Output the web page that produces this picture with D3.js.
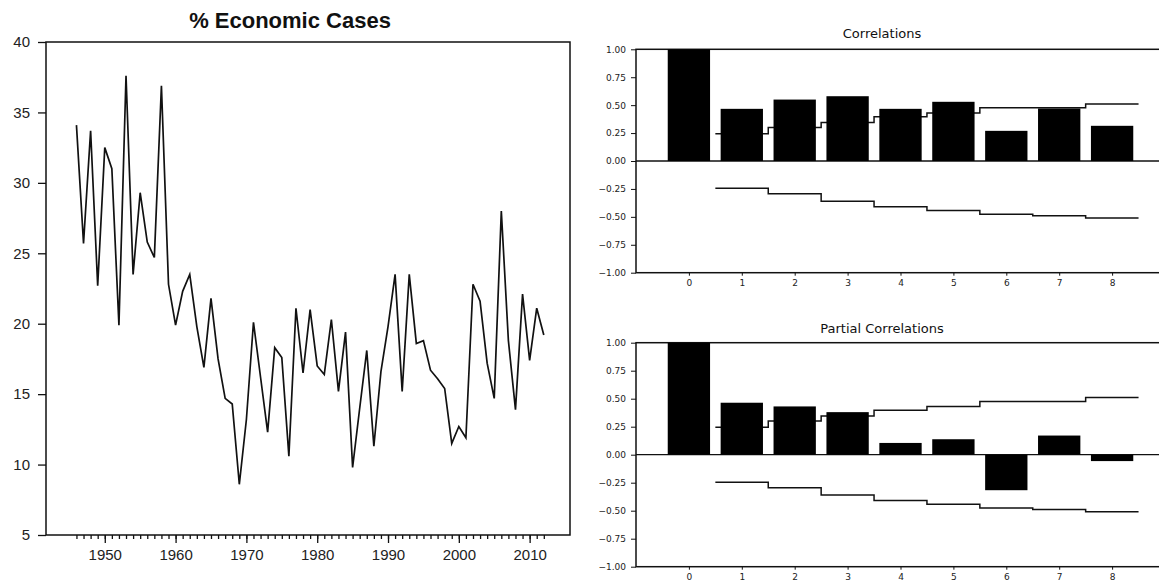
<!DOCTYPE html>
<html>
<head>
<meta charset="utf-8">
<script src="https://cdn.jsdelivr.net/npm/d3@7"></script>
<style>
body { margin: 0; background: #fff; }
svg { display: block; }
</style>
</head>
<body>
<div id="chart"></div>
<script>
// yearly series, 1946 .. 2012
var startYear = 1946;
var econValues = [
    34.1, 25.7, 33.7, 22.7, 32.5, 31.0, 19.9, 37.6, 23.5, 29.3,
    25.8, 24.7, 36.9, 22.8, 19.9, 22.3, 23.5, 19.8, 16.9, 21.8,
    17.5, 14.7, 14.3, 8.6, 13.2, 20.1, 16.2, 12.3, 18.3, 17.6,
    10.6, 21.1, 16.5, 21.0, 17.0, 16.4, 20.3, 15.2, 19.4, 9.8,
    14.0, 18.1, 11.3, 16.6, 19.8, 23.5, 15.2, 23.5, 18.6, 18.8,
    16.7, 16.1, 15.4, 11.5, 12.7, 11.9, 22.8, 21.6, 17.2, 14.7,
    28.0, 18.8, 13.9, 22.1, 17.4, 21.1, 19.2
];
var yearTicks = [1950, 1960, 1970, 1980, 1990, 2000, 2010];
var valueTicks = [5, 10, 15, 20, 25, 30, 35, 40];

// correlogram
var lags = [0, 1, 2, 3, 4, 5, 6, 7, 8];
var acfValues = [1.00, 0.467, 0.55, 0.58, 0.467, 0.53, 0.27, 0.47, 0.315];
var pacfValues = [1.00, 0.464, 0.431, 0.38, 0.105, 0.138, -0.317, 0.171, -0.057];
var upperBand = [0.245, 0.30, 0.345, 0.396, 0.43, 0.476, 0.476, 0.51];   // lags 1..8
var lowerBand = [-0.245, -0.294, -0.36, -0.41, -0.443, -0.476, -0.49, -0.51];
var corrTicks = [-1, -0.75, -0.5, -0.25, 0, 0.25, 0.5, 0.75, 1];

var svg = d3.select("#chart").append("svg")
    .attr("width", 1159)
    .attr("height", 582);

LineChart = function(_parent, _title, _values, _box) {
    vis = this;
    this.parent = _parent;
    this.title = _title;
    this.data = _values.map(function(v, i) { return { year: startYear + i, value: v }; });
    this.box = _box;
    this.initVis();
};

LineChart.prototype.initVis = function() {
    vis = this;
    var b = vis.box;

    vis.g = vis.parent.append("g").attr("class", "line-chart");

    vis.x = d3.scaleLinear().domain([1941.7, 2015.7]).range([b.left, b.right]);
    vis.y = d3.scaleLinear().domain([5, 40]).range([b.bottom, b.top]);

    vis.g.append("text")
        .attr("x", 290)
        .attr("y", 28)
        .attr("text-anchor", "middle")
        .attr("font-family", "Liberation Sans, Arial, sans-serif")
        .attr("font-weight", "bold")
        .attr("font-size", "22px")
        .attr("fill", "#111")
        .text(vis.title);

    // minor yearly ticks
    var minor = vis.g.append("g")
        .attr("transform", "translate(0," + b.bottom + ")")
        .call(d3.axisBottom(vis.x)
            .tickValues(vis.data.map(function(d) { return d.year; }))
            .tickSize(4)
            .tickFormat(""));
    minor.select(".domain").remove();

    var xAxis = vis.g.append("g")
        .attr("transform", "translate(0," + b.bottom + ")")
        .call(d3.axisBottom(vis.x)
            .tickValues(yearTicks)
            .tickSize(8)
            .tickPadding(6)
            .tickFormat(d3.format("d")));
    xAxis.select(".domain").remove();

    var yAxis = vis.g.append("g")
        .attr("transform", "translate(" + b.left + ",0)")
        .call(d3.axisLeft(vis.y)
            .tickValues(valueTicks)
            .tickSize(8)
            .tickPadding(8));
    yAxis.select(".domain").remove();

    vis.g.selectAll(".tick line").attr("stroke", "#111").attr("stroke-width", 1.3);
    vis.g.selectAll(".tick text")
        .attr("font-family", "Liberation Sans, Arial, sans-serif")
        .attr("font-size", "15px")
        .attr("fill", "#222");

    vis.g.append("rect")
        .attr("x", b.left)
        .attr("y", b.top)
        .attr("width", b.right - b.left)
        .attr("height", b.bottom - b.top)
        .attr("fill", "none")
        .attr("stroke", "#111")
        .attr("stroke-width", 1.5);

    vis.updateVis();
};

LineChart.prototype.updateVis = function() {
    vis = this;

    var line = d3.line()
        .x(function(d) { return vis.x(d.year); })
        .y(function(d) { return vis.y(d.value); });

    vis.g.append("path")
        .datum(vis.data)
        .attr("d", line)
        .attr("fill", "none")
        .attr("stroke", "#111")
        .attr("stroke-width", 1.7);
};

CorrChart = function(_parent, _title, _values, _box) {
    vis = this;
    this.parent = _parent;
    this.title = _title;
    this.data = lags.map(function(l, i) { return { lag: l, value: _values[i] }; });
    this.box = _box;
    this.initVis();
};

CorrChart.prototype.initVis = function() {
    vis = this;
    var b = vis.box;

    vis.g = vis.parent.append("g").attr("class", "corr-chart");

    vis.x = d3.scaleLinear().domain([-1, 9]).range([b.left, b.right]);
    vis.y = d3.scaleLinear().domain([-1, 1]).range([b.bottom, b.top]);

    vis.g.append("text")
        .attr("x", 882)
        .attr("y", b.titleY)
        .attr("text-anchor", "middle")
        .attr("font-family", "DejaVu Sans, Verdana, sans-serif")
        .attr("font-size", "13px")
        .attr("fill", "#111")
        .text(vis.title);

    var yAxis = vis.g.append("g")
        .attr("transform", "translate(" + b.left + ",0)")
        .call(d3.axisLeft(vis.y)
            .tickValues(corrTicks)
            .tickSize(5)
            .tickPadding(5)
            .tickFormat(d3.format(".2f")));
    yAxis.select(".domain").remove();

    var xAxis = vis.g.append("g")
        .attr("transform", "translate(0," + b.bottom + ")")
        .call(d3.axisBottom(vis.x)
            .tickValues(lags)
            .tickSize(3)
            .tickPadding(4));
    xAxis.select(".domain").remove();

    vis.g.selectAll(".tick line").attr("stroke", "#111");
    vis.g.selectAll(".tick text")
        .attr("font-family", "DejaVu Sans, Verdana, sans-serif")
        .attr("font-size", "9px")
        .attr("fill", "#222");

    vis.g.append("rect")
        .attr("x", b.left)
        .attr("y", b.top)
        .attr("width", b.right - b.left)
        .attr("height", b.bottom - b.top)
        .attr("fill", "none")
        .attr("stroke", "#111")
        .attr("stroke-width", 1.5);

    vis.g.append("line")
        .attr("x1", b.left)
        .attr("x2", b.right)
        .attr("y1", vis.y(0))
        .attr("y2", vis.y(0))
        .attr("stroke", "#111")
        .attr("stroke-width", 1.3);

    vis.updateVis();
};

CorrChart.prototype.updateVis = function() {
    vis = this;

    // confidence bands as steps across each lag
    var stepLine = d3.line()
        .x(function(d) { return vis.x(d[0]); })
        .y(function(d) { return vis.y(d[1]); })
        .curve(d3.curveStepAfter);

    [upperBand, lowerBand].forEach(function(band) {
        var pts = band.map(function(v, i) { return [i + 0.5, v]; });
        pts.push([band.length + 0.5, band[band.length - 1]]);
        vis.g.append("path")
            .attr("d", stepLine(pts))
            .attr("fill", "none")
            .attr("stroke", "#111")
            .attr("stroke-width", 1.5);
    });

    vis.g.selectAll(".bar")
        .data(vis.data)
        .enter().append("rect")
        .attr("class", "bar")
        .attr("x", function(d) { return vis.x(d.lag - 0.4); })
        .attr("width", vis.x(0.8) - vis.x(0))
        .attr("y", function(d) { return vis.y(Math.max(0, d.value)); })
        .attr("height", function(d) { return Math.abs(vis.y(d.value) - vis.y(0)); })
        .attr("fill", "#000");
};

new LineChart(svg, "% Economic Cases", econValues,
    { left: 46, right: 570, top: 42, bottom: 535 });
new CorrChart(svg, "Correlations", acfValues,
    { left: 636, right: 1165, top: 49.3, bottom: 272.7, titleY: 38 });
new CorrChart(svg, "Partial Correlations", pacfValues,
    { left: 636, right: 1165, top: 342.7, bottom: 566.7, titleY: 333 });
</script>
</body>
</html>
